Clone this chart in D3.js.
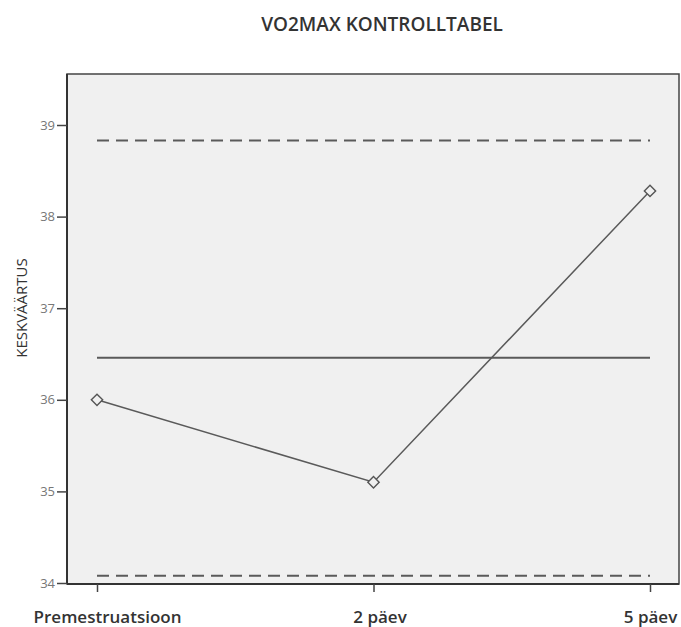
<!DOCTYPE html>
<html><head><meta charset="utf-8">
<script src="https://cdn.jsdelivr.net/npm/d3@7"></script>
<style>
html,body{margin:0;padding:0;background:#fff;}
svg{display:block;font-family:"Open Sans",sans-serif;}
</style></head>
<body>
<svg id="chart" width="681" height="627"></svg>
<script>
const categories = ["Premestruatsioon", "2 päev", "5 päev"];
const meanValues = [36.0, 35.1, 38.28];
const centerLine = 36.46;
const upperLimit = 38.83;
const lowerLimit = 34.08;
const yTicks = [34, 35, 36, 37, 38, 39];
const title = "VO2MAX KONTROLLTABEL";
const yTitle = "KESKVÄÄRTUS";

const svg = d3.select("#chart");
const plot = {left: 67, right: 679, top: 74, bottom: 584};

const x = d3.scalePoint().domain(categories).range([97, 650]);
const y = d3.scaleLinear().domain([34, 39]).range([583, 125]);

svg.append("rect")
  .attr("x", plot.left).attr("y", plot.top)
  .attr("width", plot.right - plot.left).attr("height", plot.bottom - plot.top)
  .attr("fill", "#f0f0f0").attr("stroke", "#444").attr("stroke-width", 1.5);

// Control lines
const xs = [x(categories[0]), x(categories[categories.length-1])];
[[upperLimit, "12,7"], [lowerLimit, "12,7"], [centerLine, null]].forEach(([v, dash]) => {
  svg.append("line")
    .attr("x1", xs[0]).attr("x2", xs[1])
    .attr("y1", y(v)).attr("y2", y(v))
    .attr("stroke", "#5a5a5a").attr("stroke-width", 2)
    .attr("stroke-dasharray", dash);
});

// Data line
const pts = categories.map((c, i) => [x(c), y(meanValues[i])]);
svg.append("path")
  .attr("d", d3.line()(pts))
  .attr("fill", "none").attr("stroke", "#5a5a5a").attr("stroke-width", 1.5);

const sym = d3.symbol().type(d3.symbolSquare).size(64);
svg.selectAll(".pt").data(pts).join("path")
  .attr("class", "pt")
  .attr("d", sym)
  .attr("transform", d => `translate(${d[0]},${d[1]}) rotate(45)`)
  .attr("fill", "#f0f0f0").attr("stroke", "#555").attr("stroke-width", 1.4);

// Axes
const yAxis = svg.append("g").attr("transform", `translate(${plot.left},0)`)
  .call(d3.axisLeft(y).tickValues(yTicks).tickSize(10).tickPadding(2).tickFormat(d3.format("d")));
yAxis.select(".domain").attr("d", `M0,${plot.top}V${plot.bottom}`).attr("stroke", "#333").attr("stroke-width", 2);
yAxis.selectAll(".tick line").attr("stroke", "#444").attr("stroke-width", 1.5);
yAxis.selectAll(".tick text").attr("fill", "#777").style("font-size", "13px").style("font-family", "'Open Sans',sans-serif");

const xAxis = svg.append("g").attr("transform", `translate(0,${plot.bottom})`)
  .call(d3.axisBottom(x).tickSize(8).tickPadding(19));
xAxis.select(".domain").attr("d", `M${plot.left},0H${plot.right}`).attr("stroke", "#333").attr("stroke-width", 2);
xAxis.selectAll(".tick line").attr("stroke", "#444").attr("stroke-width", 1.5);
xAxis.selectAll(".tick text").attr("fill", "#333").style("font-size", "17px")
  .style("font-weight", "600").style("font-family", "'Open Sans',sans-serif")
  .attr("dx", (d, i) => i === 0 ? 10 : (i === 1 ? 6 : 0));

svg.append("text").attr("x", 382).attr("y", 31).attr("text-anchor", "middle")
  .attr("fill", "#333").style("font-size", "19px").style("font-weight", "600").text(title);

svg.append("text").attr("transform", "translate(27,308) rotate(-90)").attr("text-anchor", "middle")
  .attr("fill", "#333").style("font-size", "15px").text(yTitle);
</script>
</body></html>
